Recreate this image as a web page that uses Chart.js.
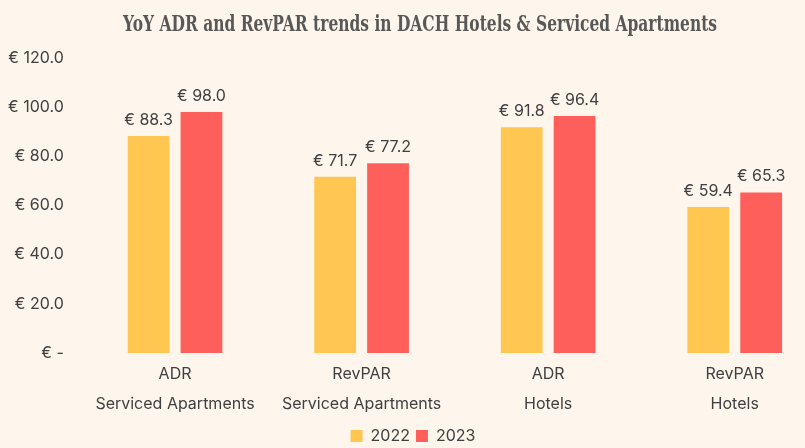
<!DOCTYPE html>
<html>
<head>
<meta charset="utf-8">
<script src="https://cdn.jsdelivr.net/npm/chart.js@4/dist/chart.umd.min.js"></script>
<style>
  html, body { margin: 0; padding: 0; background: #FEF5EC; overflow: hidden; }
  #wrap { width: 840px; height: 448px; position: relative; }
</style>
</head>
<body>
<div id="wrap"><canvas id="c" width="840" height="448"></canvas></div>
<script>
const categories = [
  ["ADR", "Serviced Apartments"],
  ["RevPAR", "Serviced Apartments"],
  ["ADR", "Hotels"],
  ["RevPAR", "Hotels"]
];
const values2022 = [88.3, 71.7, 91.8, 59.4];
const values2023 = [98.0, 77.2, 96.4, 65.3];
const seriesNames = ["2022", "2023"];
const yTicks = [0, 20, 40, 60, 80, 100, 120];
const titleText = 'YoY ADR and RevPAR trends in DACH Hotels & Serviced Apartments';

const fmt = v => v === 0 ? "€ -" : "€ " + v.toFixed(1);

const dataLabels = {
  id: 'dataLabels',
  afterDatasetsDraw(chart) {
    const ctx = chart.ctx;
    ctx.save();
    ctx.font = '16px Inter, "Noto Sans", sans-serif';
    ctx.fillStyle = '#404040';
    ctx.textAlign = 'center';
    ctx.textBaseline = 'bottom';
    chart.data.datasets.forEach((ds, i) => {
      const meta = chart.getDatasetMeta(i);
      meta.data.forEach((bar, j) => {
        ctx.fillText(fmt(ds.data[j]), bar.x, bar.y - 8);
      });
    });
    ctx.restore();
  }
};

const condensedTitle = {
  id: 'condensedTitle',
  afterDraw(chart) {
    const ctx = chart.ctx;
    ctx.save();
    ctx.font = 'bold 22px "DejaVu Serif", serif';
    ctx.fillStyle = '#585858';
    ctx.textAlign = 'center';
    ctx.textBaseline = 'alphabetic';
    const w = ctx.measureText(titleText).width;
    const sx = 594 / w;
    ctx.translate(420, 31);
    ctx.scale(sx, 1);
    ctx.fillText(titleText, 0, 0);
    ctx.restore();
  }
};

new Chart(document.getElementById('c'), {
  type: 'bar',
  data: {
    labels: categories,
    datasets: [
      { label: seriesNames[0], data: values2022, backgroundColor: '#FFC752' },
      { label: seriesNames[1], data: values2023, backgroundColor: '#FF5F5B' }
    ]
  },
  options: {
    responsive: false,
    animation: false,
    layout: { padding: { left: -2, right: 12, top: 58, bottom: -6 } },
    datasets: { bar: { categoryPercentage: 0.567, barPercentage: 0.79 } },
    scales: {
      x: {
        grid: { display: false },
        border: { display: false },
        afterFit: axis => { axis.height += 5; },
        ticks: {
          color: '#404040',
          font: { family: 'Inter, "Noto Sans", sans-serif', size: 16, lineHeight: 1.875 },
          padding: -2
        }
      },
      y: {
        min: 0, max: 120,
        afterBuildTicks: axis => { axis.ticks = yTicks.map(v => ({ value: v })); },
        grid: { display: false },
        border: { display: false },
        ticks: {
          color: '#404040',
          font: { family: 'Inter, "Noto Sans", sans-serif', size: 16 },
          padding: 10,
          callback: v => fmt(v)
        }
      }
    },
    plugins: {
      title: { display: false },
      legend: {
        position: 'bottom',
        labels: {
          color: '#404040',
          font: { family: 'Inter, "Noto Sans", sans-serif', size: 16 },
          boxWidth: 12, boxHeight: 12, padding: 6
        }
      },
      tooltip: { enabled: false }
    }
  },
  plugins: [dataLabels, condensedTitle]
});
</script>
</body>
</html>
